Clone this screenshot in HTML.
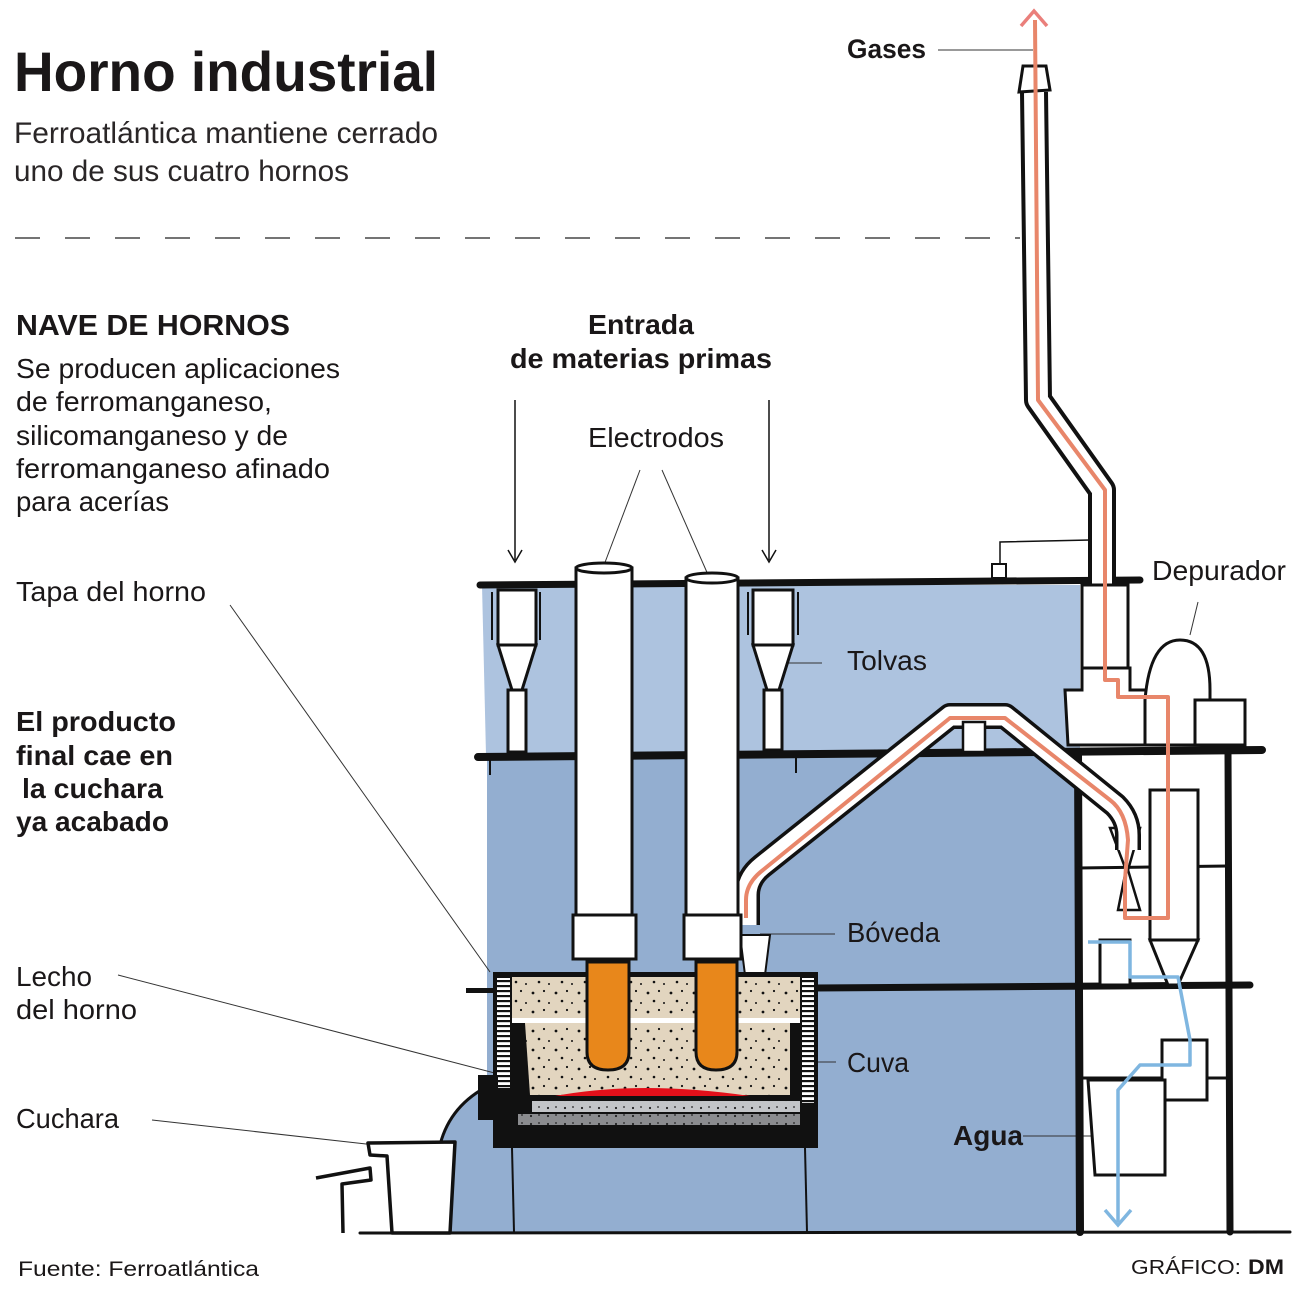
<!DOCTYPE html>
<html><head><meta charset="utf-8"><style>
html,body{margin:0;padding:0;background:#fff;}
svg{display:block;}
text{font-family:"Liberation Sans",sans-serif;fill:#1a1718;}
</style></head><body>
<svg width="1300" height="1297" viewBox="0 0 1300 1297" xmlns="http://www.w3.org/2000/svg">
<defs>
<pattern id="dots" width="23" height="19" patternUnits="userSpaceOnUse">
<rect width="23" height="19" fill="#e2d5bf"/>
<circle cx="4" cy="5" r="1.4" fill="#111"/><circle cx="15" cy="3" r="1.1" fill="#111"/>
<circle cx="10" cy="13" r="1.3" fill="#111"/><circle cx="20" cy="15" r="1" fill="#111"/>
</pattern>
<pattern id="gdots" width="17" height="8" patternUnits="userSpaceOnUse">
<circle cx="4" cy="4" r="1.1" fill="#222"/><circle cx="12" cy="3" r="0.9" fill="#222"/>
</pattern>
<pattern id="ribs" width="15" height="5" patternUnits="userSpaceOnUse">
<rect width="15" height="5" fill="#fff"/><rect y="0" width="15" height="2.2" fill="#111"/>
</pattern>
</defs>

<!-- title -->
<text x="14" y="91" font-size="56" font-weight="bold" textLength="424" lengthAdjust="spacingAndGlyphs">Horno industrial</text>
<text x="14" y="143" font-size="30" textLength="424" lengthAdjust="spacingAndGlyphs" style="fill:#2a2627">Ferroatlántica mantiene cerrado</text>
<text x="14" y="181" font-size="30" textLength="335" lengthAdjust="spacingAndGlyphs" style="fill:#2a2627">uno de sus cuatro hornos</text>
<line x1="15" y1="238" x2="1020" y2="238" stroke="#222" stroke-width="1.3" stroke-dasharray="25 25"/>

<!-- left text -->
<text x="16" y="335" font-size="29" font-weight="bold" textLength="274" lengthAdjust="spacingAndGlyphs">NAVE DE HORNOS</text>
<g font-size="28">
<text x="16" y="378" textLength="324" lengthAdjust="spacingAndGlyphs">Se producen aplicaciones</text>
<text x="16" y="411" textLength="256" lengthAdjust="spacingAndGlyphs">de ferromanganeso,</text>
<text x="16" y="445" textLength="272" lengthAdjust="spacingAndGlyphs">silicomanganeso y de</text>
<text x="16" y="478" textLength="314" lengthAdjust="spacingAndGlyphs">ferromanganeso afinado</text>
<text x="16" y="511" textLength="153" lengthAdjust="spacingAndGlyphs">para acerías</text>
<text x="16" y="601" textLength="190" lengthAdjust="spacingAndGlyphs">Tapa del horno</text>
<text x="16" y="986" textLength="76" lengthAdjust="spacingAndGlyphs">Lecho</text>
<text x="16" y="1019" textLength="121" lengthAdjust="spacingAndGlyphs">del horno</text>
<text x="16" y="1128" textLength="103" lengthAdjust="spacingAndGlyphs">Cuchara</text>
</g>
<g font-size="28" font-weight="bold">
<text x="16" y="731" textLength="160" lengthAdjust="spacingAndGlyphs">El producto</text>
<text x="16" y="765" textLength="157" lengthAdjust="spacingAndGlyphs">final cae en</text>
<text x="22" y="798" textLength="141" lengthAdjust="spacingAndGlyphs">la cuchara</text>
<text x="16" y="831" textLength="153" lengthAdjust="spacingAndGlyphs">ya acabado</text>
</g>
<text x="18" y="1276" font-size="21" textLength="241" lengthAdjust="spacingAndGlyphs">Fuente: Ferroatlántica</text>
<text x="1131" y="1274" font-size="20" textLength="110" lengthAdjust="spacingAndGlyphs">GRÁFICO:</text>
<text x="1248" y="1274" font-size="21" font-weight="bold" textLength="36" lengthAdjust="spacingAndGlyphs">DM</text>

<!-- building backgrounds -->
<polygon points="482,585 1080,585 1080,755 486,755" fill="#adc3df"/>
<rect x="487" y="755" width="590" height="478" fill="#93aed0"/>
<path d="M440,1145 Q450,1105 490,1085 L490,1233 L440,1233 Z" fill="#93aed0"/>
<path d="M440,1145 Q450,1105 490,1085" fill="none" stroke="#111" stroke-width="3"/>

<!-- top labels -->
<text x="641" y="334" font-size="28" font-weight="bold" text-anchor="middle" textLength="106" lengthAdjust="spacingAndGlyphs">Entrada</text>
<text x="641" y="368" font-size="28" font-weight="bold" text-anchor="middle" textLength="262" lengthAdjust="spacingAndGlyphs">de materias primas</text>
<text x="588" y="447" font-size="28" textLength="136" lengthAdjust="spacingAndGlyphs">Electrodos</text>
<g stroke="#111" stroke-width="1.5" fill="none">
<line x1="515" y1="400" x2="515" y2="560"/><polyline points="508,550 515,562 522,550"/>
<line x1="769" y1="400" x2="769" y2="560"/><polyline points="762,550 769,562 776,550"/>
</g>
<g stroke="#333" stroke-width="1">
<line x1="640" y1="470" x2="590" y2="602"/><line x1="662" y1="470" x2="720" y2="602"/>
<line x1="230" y1="605" x2="490" y2="972"/>
<line x1="118" y1="975" x2="560" y2="1090"/>
<line x1="152" y1="1120" x2="375" y2="1145"/>
<line x1="770" y1="663" x2="822" y2="663"/>
<line x1="760" y1="934" x2="835" y2="934"/>
<line x1="818" y1="1062" x2="836" y2="1062"/>
<line x1="1023" y1="1136" x2="1123" y2="1136"/>
<line x1="938" y1="50" x2="1033" y2="50"/>
<line x1="1198" y1="602" x2="1190" y2="635"/>
</g>
<text x="847" y="670" font-size="28" textLength="80" lengthAdjust="spacingAndGlyphs">Tolvas</text>
<text x="847" y="942" font-size="28" textLength="93" lengthAdjust="spacingAndGlyphs">Bóveda</text>
<text x="847" y="1072" font-size="28" textLength="62" lengthAdjust="spacingAndGlyphs">Cuva</text>
<text x="953" y="1145" font-size="28" font-weight="bold" textLength="70" lengthAdjust="spacingAndGlyphs">Agua</text>
<text x="847" y="58" font-size="27" font-weight="bold" textLength="79" lengthAdjust="spacingAndGlyphs">Gases</text>
<text x="1152" y="580" font-size="28" textLength="134" lengthAdjust="spacingAndGlyphs">Depurador</text>

<!-- hoppers -->
<g fill="#fff" stroke="#111" stroke-width="3">
<rect x="498" y="590" width="38" height="55"/><polygon points="498,645 536,645 522,690 512,690"/><rect x="508" y="690" width="18" height="62"/>
<rect x="753" y="590" width="40" height="55"/><polygon points="753,645 793,645 779,690 767,690"/><rect x="764" y="690" width="18" height="60"/>
</g>
<g stroke="#111" stroke-width="2"><line x1="492" y1="592" x2="492" y2="640"/><line x1="540" y1="592" x2="540" y2="640"/><line x1="748" y1="592" x2="748" y2="635"/><line x1="798" y1="592" x2="798" y2="635"/>
<line x1="490" y1="758" x2="490" y2="775"/><line x1="796" y1="758" x2="796" y2="773"/></g>

<!-- beams -->
<g stroke="#111" stroke-linecap="round">
<line x1="480" y1="585" x2="1140" y2="580" stroke-width="7"/>
<line x1="478" y1="757" x2="1262" y2="750" stroke-width="8"/>
<line x1="815" y1="988" x2="1250" y2="985" stroke-width="7"/>
<line x1="360" y1="1233" x2="1290" y2="1232" stroke-width="3"/>
<line x1="1078" y1="752" x2="1080" y2="1232" stroke-width="8"/>
<line x1="1228" y1="752" x2="1230" y2="1232" stroke-width="7"/>
<line x1="1078" y1="868" x2="1228" y2="866" stroke-width="3"/>
<line x1="1078" y1="1078" x2="1228" y2="1078" stroke-width="3"/>
</g>

<!-- chimney -->
<path d="M1034,92 L1038,400 L1102,490 L1102,585" fill="none" stroke="#111" stroke-width="28" stroke-linejoin="round"/>
<path d="M1034,92 L1038,400 L1102,490 L1102,585" fill="none" stroke="#fff" stroke-width="20" stroke-linejoin="round"/>
<polygon points="1023,66 1046,66 1050,90 1019,92" fill="#fff" stroke="#111" stroke-width="3"/>
<polyline points="1090,540 1000,542 1000,565" fill="none" stroke="#111" stroke-width="1.5"/>
<rect x="992" y="564" width="14" height="14" fill="#fff" stroke="#111" stroke-width="2"/>

<!-- depurador equipment -->
<g fill="#fff" stroke="#111" stroke-width="3">
<rect x="1082" y="585" width="46" height="85"/>
<path d="M1065,690 L1082,690 L1082,668 L1130,668 L1130,690 L1150,690 L1150,745 L1068,745 Z"/>
<path d="M1145,700 Q1150,640 1180,640 Q1210,640 1210,690 L1210,745 L1145,745 Z"/>
<rect x="1195" y="700" width="50" height="45"/>
<rect x="1150" y="790" width="48" height="150"/>
<rect x="1100" y="940" width="30" height="45"/>
<path d="M1150,940 L1198,940 L1178,985 L1168,985 Z"/>
<rect x="1162" y="1040" width="45" height="60"/>
<path d="M1088,1080 L1165,1080 L1165,1175 L1095,1175 Z"/>
</g>
<path d="M1110,828 L1140,828 L1128,870 L1140,910 L1118,910 L1126,870 Z" fill="#fff" stroke="#111" stroke-width="2.5"/>

<!-- duct -->
<path d="M747,925 L747,895 Q747,878 762,866 L950,716 L1005,716 L1115,805 Q1128,818 1128,835 L1128,850" fill="none" stroke="#111" stroke-width="26" stroke-linejoin="round"/>
<path d="M747,925 L747,895 Q747,878 762,866 L950,716 L1005,716 L1115,805 Q1128,818 1128,835 L1128,850" fill="none" stroke="#fff" stroke-width="19" stroke-linejoin="round"/>
<rect x="963" y="722" width="22" height="30" fill="#fff" stroke="#111" stroke-width="2.5"/>
<path d="M740,935 L770,935 L765,975 L745,975 Z" fill="#fff" stroke="#111" stroke-width="2"/>

<!-- gas line -->
<path d="M1035,20 L1038,400 L1105,490 L1105,680 L1118,680 L1118,697 L1168,697 L1168,918 L1125,918 L1125,880 L1128,840 Q1126,812 1110,800 L1005,718 L950,718 L763,870 Q746,883 746,900 L746,918" fill="none" stroke="#e8866a" stroke-width="4" stroke-linejoin="round"/>
<polyline points="1021,26 1034,11 1047,26" fill="none" stroke="#ea7f7b" stroke-width="3.5"/>
<!-- water line -->
<path d="M1088,942 L1130,942 L1130,977 L1178,977 L1190,1040 L1190,1065 L1140,1065 L1118,1090 L1118,1222" fill="none" stroke="#7fb6e0" stroke-width="3.5" stroke-linejoin="round"/>
<polyline points="1105,1210 1118,1225 1131,1210" fill="none" stroke="#7fb6e0" stroke-width="3.5"/>

<!-- electrodes -->
<g fill="#fff" stroke="#111" stroke-width="3">
<rect x="576" y="568" width="56" height="350"/>
<ellipse cx="604" cy="568" rx="28" ry="5"/>
<rect x="686" y="578" width="52" height="340"/>
<ellipse cx="712" cy="578" rx="26" ry="5"/>
<rect x="573" y="915" width="63" height="44"/>
<rect x="684" y="915" width="57" height="44"/>
</g>

<!-- furnace -->
<rect x="493" y="972" width="325" height="176" fill="#111"/>
<rect x="497" y="978" width="13" height="110" fill="url(#ribs)"/>
<rect x="802" y="978" width="12" height="125" fill="url(#ribs)"/>
<rect x="512" y="977" width="288" height="41" fill="url(#dots)"/>
<rect x="512" y="1018" width="288" height="5" fill="#fff"/>
<path d="M525,1023 L790,1023 L790,1095 L530,1095 Z" fill="url(#dots)"/>
<path d="M555,1096 Q640,1080 750,1096 Z" fill="#e3101a"/>
<rect x="532" y="1101" width="268" height="11" fill="#c3c5c8"/>
<rect x="532" y="1101" width="268" height="11" fill="url(#gdots)"/>
<rect x="518" y="1114" width="282" height="11" fill="#8b8c8f"/>
<rect x="518" y="1114" width="282" height="11" fill="url(#gdots)"/>
<rect x="466" y="988" width="28" height="5" fill="#111"/>
<rect x="478" y="1075" width="20" height="45" fill="#111"/>
<g fill="#e8871b" stroke="#111" stroke-width="3">
<path d="M587,962 L629,962 L629,1052 Q629,1070 608,1070 Q587,1070 587,1052 Z"/>
<path d="M696,962 L737,962 L737,1052 Q737,1070 716,1070 Q696,1070 696,1052 Z"/>
</g>
<g stroke="#111" stroke-width="2"><line x1="512" y1="1148" x2="514" y2="1232"/><line x1="805" y1="1148" x2="807" y2="1232"/></g>

<!-- cuchara -->
<g fill="#fff" stroke="#111" stroke-width="3.5" stroke-linejoin="round">
<path d="M368,1143 L455,1142 L450,1233 L392,1233 L387,1156 L370,1155 Z"/>
<path d="M316,1178 L370,1168 L371,1180 L342,1184 L343,1233"/>
</g>
</svg>
</body></html>
